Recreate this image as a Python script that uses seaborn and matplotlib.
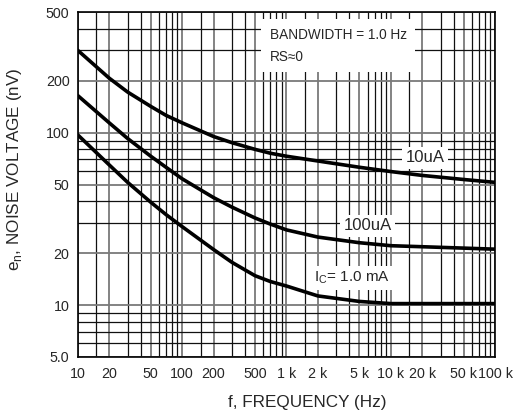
import numpy as np
import pandas as pd
import matplotlib
matplotlib.use("Agg")
import matplotlib.pyplot as plt
from matplotlib.ticker import FixedLocator, NullFormatter
import seaborn as sns

freq = [10, 20, 30, 50, 70, 100, 200, 300, 500, 700, 1000, 2000, 5000, 10000, 20000, 50000, 100000]
noise_10uA = [300, 207, 172, 142, 126, 114, 95, 87.5, 80, 76, 73, 68.5, 63, 59.5, 56.5, 53.5, 51.5]
noise_100uA = [164, 114, 92.5, 73, 63, 54, 42, 37, 32, 29.5, 27.3, 24.8, 23, 22.1, 21.8, 21.4, 21.1]
noise_1mA = [97, 65, 51.5, 39.5, 33.5, 28.5, 21, 17.7, 14.8, 13.7, 12.9, 11.3, 10.5, 10.2, 10.2, 10.2, 10.2]
series_names = ["10uA", "100uA", "1.0 mA"]

x_ticks = [10, 20, 50, 100, 200, 500, 1000, 2000, 5000, 10000, 20000, 50000, 100000]
x_tick_labels = ["10", "20", "50", "100", "200", "500", "1 k", "2 k", "5 k",
                 "10 k", "20 k", "50 k", "100 k"]
y_ticks = [5, 10, 20, 50, 100, 200, 500]
y_tick_labels = ["5.0", "10", "20", "50", "100", "200", "500"]

df = pd.concat([
    pd.DataFrame({"f": freq, "en": noise_10uA, "Ic": series_names[0]}),
    pd.DataFrame({"f": freq, "en": noise_100uA, "Ic": series_names[1]}),
    pd.DataFrame({"f": freq, "en": noise_1mA, "Ic": series_names[2]}),
])

sns.set_style("white")
plt.rcParams["font.family"] = ["Liberation Sans", "DejaVu Sans"]

fig = plt.figure(figsize=(5.19, 4.19), dpi=100)
ax = fig.add_axes([0.150, 0.148, 0.804, 0.823])
ax.set_xscale("log")
ax.set_yscale("log")
ax.set_xlim(10, 100000)
ax.set_ylim(5, 500)

# grid lines
minor_x = [d * s for d in [10, 100, 1000, 10000] for s in [1.5, 3, 4, 6, 7, 8, 9]]
minor_y = [d * s for d in [1, 10, 100] for s in [6, 7, 8, 9, 30, 40]] + [300, 400]
minor_y = sorted(set(v for v in minor_y if 5 < v < 500))
ax.xaxis.set_major_locator(FixedLocator(x_ticks))
ax.xaxis.set_minor_locator(FixedLocator(minor_x))
ax.yaxis.set_major_locator(FixedLocator(y_ticks))
ax.yaxis.set_minor_locator(FixedLocator(minor_y))
ax.xaxis.set_minor_formatter(NullFormatter())
ax.yaxis.set_minor_formatter(NullFormatter())
ax.set_xticklabels(x_tick_labels, fontsize=10.3)
ax.set_yticklabels(y_tick_labels, fontsize=10.3)
ax.grid(True, which="major", color="#7a7a7a", linewidth=1.3)
ax.grid(True, which="minor", color="#111111", linewidth=0.9)
ax.tick_params(axis="x", which="both", length=0, pad=7)
ax.tick_params(axis="y", which="both", length=0, pad=6)
ax.set_axisbelow(True)

sns.lineplot(data=df, x="f", y="en", hue="Ic",
             palette=["black", "black", "black"], linewidth=2.6,
             legend=False, ax=ax, zorder=3)

for sp in ax.spines.values():
    sp.set_color("black")
    sp.set_linewidth(1.2)

box = dict(facecolor="white", edgecolor="none", pad=2.5)
ax.text(0.46, 0.955, "BANDWIDTH = 1.0 Hz\nRS\u22480", transform=ax.transAxes,
        ha="left", va="top", fontsize=9.8, linespacing=1.75,
        bbox=dict(facecolor="white", edgecolor="none", pad=6), zorder=4)
ax.text(21500, 71.5, "10uA", ha="center", va="center", fontsize=12,
        bbox=box, zorder=4)
ax.text(6000, 28.9, "100uA", ha="center", va="center", fontsize=12,
        bbox=box, zorder=4)
ax.text(4200, 14.4, "I$_\\mathregular{C}$= 1.0 mA", ha="center", va="center",
        fontsize=11, bbox=box, zorder=4)

ax.set_xlabel("f, FREQUENCY (Hz)", fontsize=12.3)
ax.set_ylabel("e$_\\mathregular{n}$, NOISE VOLTAGE (nV)", fontsize=12.3)
ax.xaxis.set_label_coords(0.549, -0.11)
ax.yaxis.set_label_coords(-0.13, 0.545)

fig.savefig("out.png", dpi=100)
